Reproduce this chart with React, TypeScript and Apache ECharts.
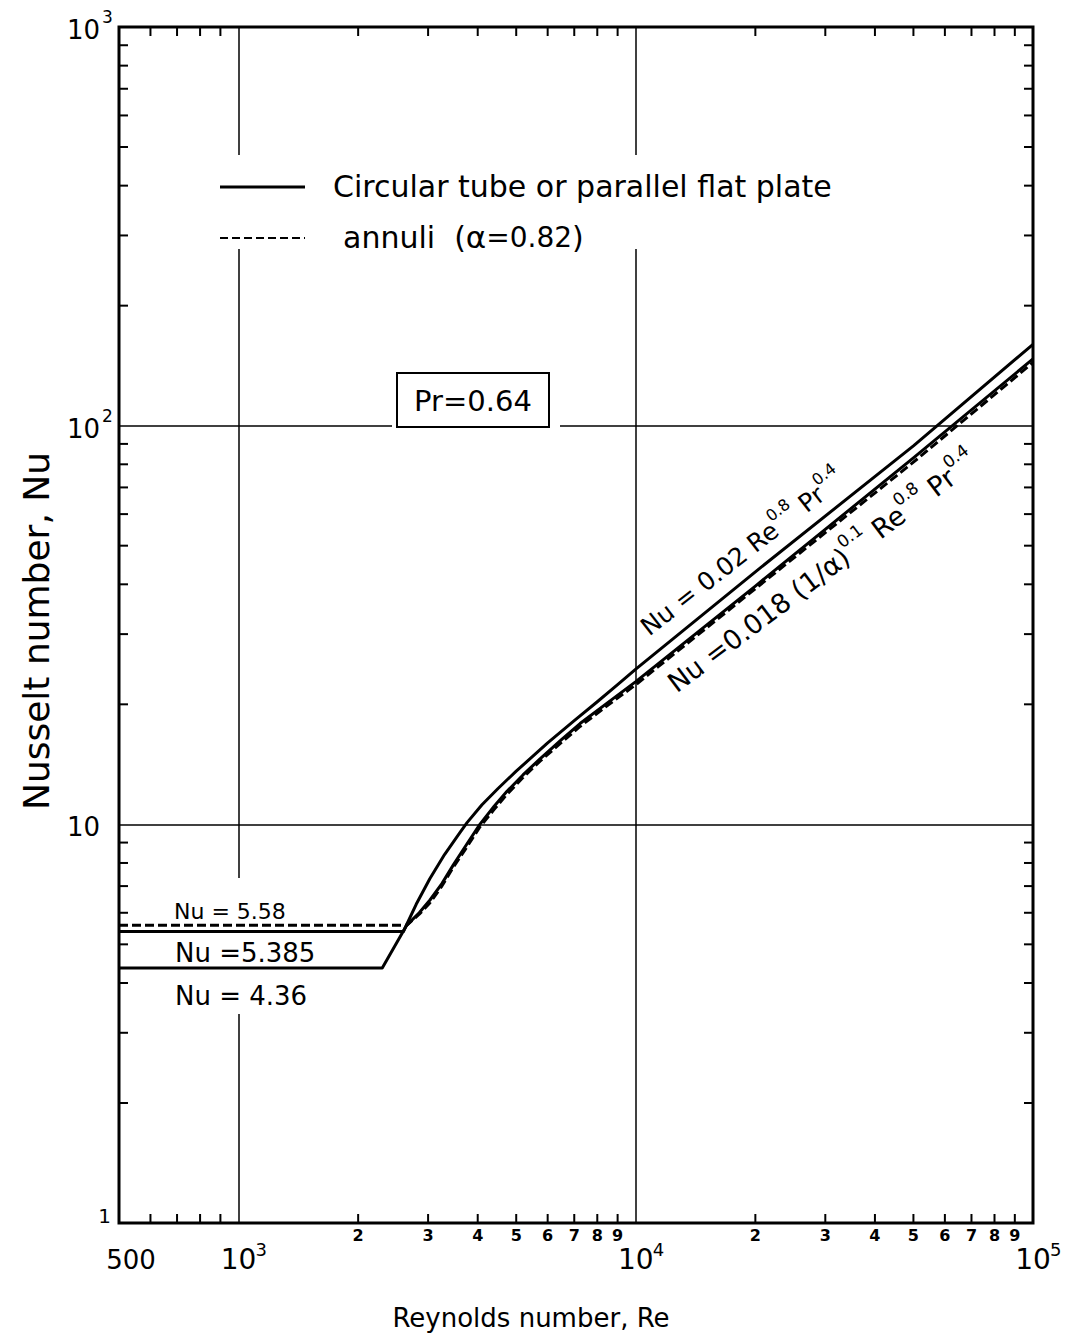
import React, { useEffect, useRef } from "react";
import * as echarts from "echarts";

const FONT = "DejaVu Sans";

// Upper solid branch: laminar Nu = 5.385, turbulent Nu = 0.02 Re^0.8 Pr^0.4
const tubeRe = [500, 2600, 2800, 3030, 3300, 3600, 3760, 4100, 4500, 5000, 5500, 6000, 7000, 8000, 9000, 10000, 20000, 50000, 100000];
const tubeNu = [5.385, 5.385, 6.3, 7.3, 8.4, 9.5, 10.1, 11.2, 12.3, 13.6, 14.8, 16.0, 18.2, 20.3, 22.4, 24.5, 43.0, 89, 160];

// Lower solid branch: laminar Nu = 4.36
const plateRe = [500, 2300, 2650, 2850, 3030, 3250, 3470, 3750, 4050, 4400, 4740, 5200, 5740, 6500, 7240, 8500, 10000, 20000, 50000, 100000];
const plateNu = [4.36, 4.36, 5.58, 6.0, 6.45, 7.1, 7.9, 8.9, 10.0, 11.1, 12.1, 13.3, 14.6, 16.3, 17.9, 20.2, 22.8, 39.6, 83, 147];

// Annuli (alpha = 0.82), dashed: laminar Nu = 5.58
const annuliRe = [500, 2650, 2850, 3030, 3250, 3470, 3750, 4050, 4400, 4740, 5200, 5740, 6500, 7240, 8500, 10000, 20000, 50000, 100000];
const annuliNu = [5.58, 5.58, 5.95, 6.35, 7.0, 7.8, 8.75, 9.85, 10.9, 11.9, 13.1, 14.4, 16.05, 17.6, 19.9, 22.4, 39.0, 81, 144];

// Axis ticks and labels
const xMinorTicks = [600, 700, 800, 900, 2000, 3000, 4000, 5000, 6000, 7000, 8000, 9000,
  20000, 30000, 40000, 50000, 60000, 70000, 80000, 90000];
const xDigitTicks = [2000, 3000, 4000, 5000, 6000, 7000, 8000, 9000,
  20000, 30000, 40000, 50000, 60000, 70000, 80000, 90000];
const xDigitTexts = ["2", "3", "4", "5", "6", "7", "8", "9", "2", "3", "4", "5", "6", "7", "8", "9"];
const xDecadeTicks = [1000, 10000, 100000];
const xDecadeExps = ["3", "4", "5"];
const xStartTick = [500];
const xStartText = ["500"];
const yMinorTicks = [2, 3, 4, 5, 6, 7, 8, 9, 20, 30, 40, 50, 60, 70, 80, 90, 200, 300, 400, 500, 600, 700, 800, 900];
const yDecadeTicks = [1, 10, 100, 1000];
const yDecadeBases = ["1", "10", "10", "10"];
const yDecadeExps = ["", "", "2", "3"];

const pairs = (xs: number[], ys: number[]) => xs.map((x, i) => [x, ys[i]]);

const txt = (extra: any) => ({
  fill: "#000",
  fontFamily: FONT,
  ...extra,
});

const supRich = (size: number) => ({
  s: { fontSize: size, fontFamily: FONT, lineHeight: size, verticalAlign: "top" },
});

export default function App() {
  const ref = useRef<HTMLDivElement>(null);

  useEffect(() => {
    document.body.style.margin = "0";
    const chart = echarts.init(ref.current!, null, { renderer: "svg" });

    const axisCommon = {
      type: "log",
      logBase: 10,
      axisLine: { show: false },
      axisTick: { show: false },
      axisLabel: { show: false },
      splitLine: { show: true, lineStyle: { color: "#000", width: 1.5 } },
    };

    const curve = (data: number[][], dashed: boolean) => ({
      type: "line",
      data,
      symbol: "none",
      lineStyle: { color: "#000", width: 3, type: dashed ? [9, 4] : "solid", join: "round" },
      z: 5,
    });

    const option: any = {
      animation: false,
      backgroundColor: "#fff",
      grid: {
        left: 119,
        top: 27,
        width: 914,
        height: 1196,
        show: true,
        borderColor: "#000",
        borderWidth: 3,
        backgroundColor: "transparent",
      },
      xAxis: { ...axisCommon, min: 500, max: 100000 },
      yAxis: { ...axisCommon, min: 1, max: 1000 },
      series: [
        curve(pairs(tubeRe, tubeNu), false),
        curve(pairs(plateRe, plateNu), false),
        curve(pairs(annuliRe, annuliNu), true),
        // x minor ticks, bottom and top, pointing inward
        {
          type: "custom",
          clip: false,
          data: xMinorTicks.map((v) => [v, 10]),
          renderItem: (params: any, api: any) => {
            const cs = params.coordSys;
            const x = api.coord([api.value(0), api.value(1)])[0];
            const b = cs.y + cs.height;
            const t = cs.y;
            return {
              type: "group",
              children: [
                { type: "line", shape: { x1: x, y1: b, x2: x, y2: b - 9 }, style: { stroke: "#000", lineWidth: 2 } },
                { type: "line", shape: { x1: x, y1: t, x2: x, y2: t + 9 }, style: { stroke: "#000", lineWidth: 2 } },
              ],
            };
          },
        },
        // y minor ticks, left and right, pointing inward
        {
          type: "custom",
          clip: false,
          data: yMinorTicks.map((v) => [1000, v]),
          renderItem: (params: any, api: any) => {
            const cs = params.coordSys;
            const y = api.coord([api.value(0), api.value(1)])[1];
            const l = cs.x;
            const r = cs.x + cs.width;
            return {
              type: "group",
              children: [
                { type: "line", shape: { x1: l, y1: y, x2: l + 9, y2: y }, style: { stroke: "#000", lineWidth: 2 } },
                { type: "line", shape: { x1: r, y1: y, x2: r - 9, y2: y }, style: { stroke: "#000", lineWidth: 2 } },
              ],
            };
          },
        },
        // small digit labels under the x axis
        {
          type: "custom",
          clip: false,
          data: xDigitTicks.map((v) => [v, 1]),
          renderItem: (params: any, api: any) => {
            const p = api.coord([api.value(0), api.value(1)]);
            return {
              type: "text",
              x: p[0],
              y: p[1] + 20,
              style: txt({
                text: xDigitTexts[params.dataIndex],
                fontSize: 16,
                fontWeight: "bold",
                align: "center",
                verticalAlign: "bottom",
              }),
            };
          },
        },
        // decade labels under the x axis
        {
          type: "custom",
          clip: false,
          data: xDecadeTicks.map((v) => [v, 1]),
          renderItem: (params: any, api: any) => {
            const p = api.coord([api.value(0), api.value(1)]);
            return {
              type: "group",
              children: [
                {
                  type: "text",
                  x: p[0],
                  y: p[1] + 22,
                  style: txt({ text: "10", fontSize: 28, align: "center", verticalAlign: "top" }),
                },
                {
                  type: "text",
                  x: p[0] + 17,
                  y: p[1] + 17,
                  style: txt({ text: xDecadeExps[params.dataIndex], fontSize: 18, align: "left", verticalAlign: "top" }),
                },
              ],
            };
          },
        },
        // starting value label
        {
          type: "custom",
          clip: false,
          data: xStartTick.map((v) => [v, 1]),
          renderItem: (params: any, api: any) => {
            const p = api.coord([api.value(0), api.value(1)]);
            return {
              type: "text",
              x: p[0] + 12,
              y: p[1] + 37,
              style: txt({ text: xStartText[params.dataIndex], fontSize: 26, align: "center", verticalAlign: "middle" }),
            };
          },
        },
        // y decade labels
        {
          type: "custom",
          clip: false,
          data: yDecadeTicks.map((v) => [500, v]),
          renderItem: (params: any, api: any) => {
            const p = api.coord([api.value(0), api.value(1)]);
            const i = params.dataIndex;
            const exp = yDecadeExps[i];
            const small = yDecadeBases[i] === "1";
            const children: any[] = [
              {
                type: "text",
                x: small ? p[0] - 8 : p[0] - 19,
                y: p[1] + 3,
                style: txt({
                  text: yDecadeBases[i],
                  fontSize: small ? 20 : 26,
                  align: "right",
                  verticalAlign: small ? "bottom" : "middle",
                }),
              },
            ];
            if (exp) {
              children.push({
                type: "text",
                x: p[0] - 17,
                y: p[1] - 10,
                style: txt({ text: exp, fontSize: 17, align: "left", verticalAlign: "middle" }),
              });
            }
            return { type: "group", children };
          },
        },
      ],
      graphic: [
        // legend area
        { type: "rect", shape: { x: 210, y: 155, width: 640, height: 94 }, style: { fill: "#fff" }, z: 1 },
        { type: "line", shape: { x1: 220, y1: 187, x2: 305, y2: 187 }, style: { stroke: "#000", lineWidth: 3 }, z: 3 },
        { type: "line", shape: { x1: 220, y1: 238, x2: 305, y2: 238 }, style: { stroke: "#000", lineWidth: 2, lineDash: [8, 4] }, z: 3 },
        {
          type: "text",
          x: 333,
          y: 186,
          style: txt({ text: "Circular tube or parallel flat plate", fontSize: 30, align: "left", verticalAlign: "middle" }),
          z: 3,
        },
        {
          type: "text",
          x: 343,
          y: 237,
          style: txt({
            text: "annuli  ({a|α}{b|=0.82})",
            fontSize: 30,
            align: "left",
            verticalAlign: "middle",
            rich: { a: { fontSize: 31, fontFamily: FONT }, b: { fontSize: 28, fontFamily: FONT } },
          }),
          z: 3,
        },
        // Prandtl number box
        { type: "rect", shape: { x: 392, y: 418, width: 168, height: 14 }, style: { fill: "#fff" }, z: 1 },
        { type: "rect", shape: { x: 397, y: 373, width: 152, height: 54 }, style: { fill: "#fff", stroke: "#000", lineWidth: 2 }, z: 2 },
        {
          type: "text",
          x: 473,
          y: 401,
          style: txt({ text: "Pr=0.64", fontSize: 29, align: "center", verticalAlign: "middle" }),
          z: 3,
        },
        // laminar value labels
        { type: "rect", shape: { x: 232, y: 878, width: 16, height: 136 }, style: { fill: "#fff" }, z: 1 },
        {
          type: "text",
          x: 174,
          y: 911,
          style: txt({ text: "Nu = 5.58", fontSize: 22, align: "left", verticalAlign: "middle" }),
          z: 3,
        },
        {
          type: "text",
          x: 175,
          y: 953,
          style: txt({ text: "Nu =5.385", fontSize: 26, align: "left", verticalAlign: "middle" }),
          z: 3,
        },
        {
          type: "text",
          x: 175,
          y: 996,
          style: txt({ text: "Nu = 4.36", fontSize: 26, align: "left", verticalAlign: "middle" }),
          z: 3,
        },
        // correlation labels along the turbulent branches
        {
          type: "text",
          x: 644,
          y: 630,
          rotation: (38 * Math.PI) / 180,
          style: txt({
            text: "Nu = 0.02 Re{s|0.8} Pr{s|0.4}",
            fontSize: 25,
            lineHeight: 40,
            align: "left",
            verticalAlign: "middle",
            rich: supRich(16),
          }),
          z: 3,
        },
        {
          type: "text",
          x: 671,
          y: 686,
          rotation: (37 * Math.PI) / 180,
          style: txt({
            text: "Nu =0.018 (1/α){s|0.1} Re{s|0.8} Pr{s|0.4}",
            fontSize: 27,
            lineHeight: 42,
            align: "left",
            verticalAlign: "middle",
            rich: supRich(17),
          }),
          z: 3,
        },
        // axis titles
        {
          type: "text",
          x: 531,
          y: 1318,
          style: txt({ text: "Reynolds number, Re", fontSize: 26, align: "center", verticalAlign: "middle" }),
          z: 3,
        },
        {
          type: "text",
          x: 36,
          y: 631,
          rotation: Math.PI / 2,
          style: txt({ text: "Nusselt number, Nu", fontSize: 36, align: "center", verticalAlign: "middle" }),
          z: 3,
        },
      ],
    };

    chart.setOption(option);
    return () => chart.dispose();
  }, []);

  return <div ref={ref} style={{ width: 1069, height: 1339 }} />;
}
